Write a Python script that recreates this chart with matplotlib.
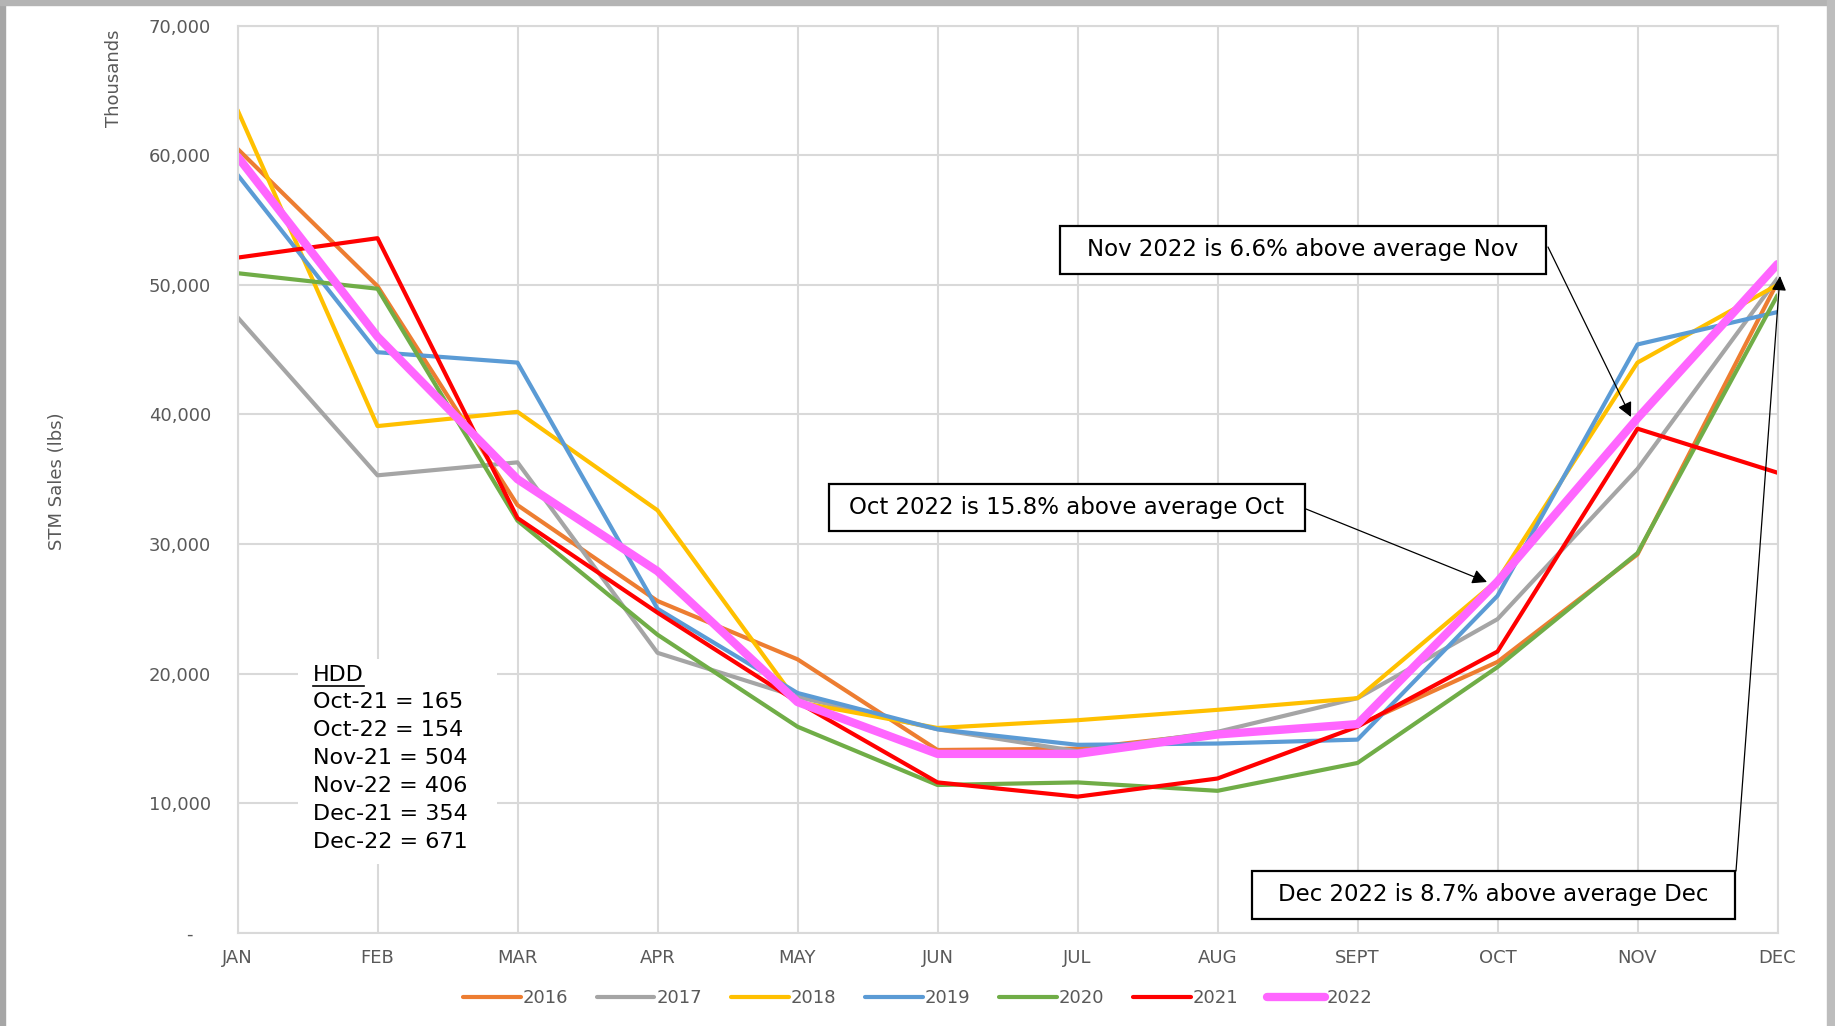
import matplotlib
matplotlib.use('Agg')
import matplotlib.pyplot as plt
from matplotlib.patches import Rectangle
from matplotlib.lines import Line2D

# data (thousands of lbs)
months = ['JAN', 'FEB', 'MAR', 'APR', 'MAY', 'JUN', 'JUL', 'AUG', 'SEPT', 'OCT', 'NOV', 'DEC']
years = ['2016', '2017', '2018', '2019', '2020', '2021', '2022']
sales_2016 = [60500, 49900, 33000, 25600, 21100, 14100, 14200, 15400, 16000, 20900, 29200, 50200]
sales_2017 = [47500, 35300, 36300, 21600, 18200, 15700, 14000, 15500, 18100, 24200, 35800, 50500]
sales_2018 = [63500, 39100, 40200, 32600, 17800, 15800, 16400, 17200, 18100, 27200, 44000, 50000]
sales_2019 = [58500, 44800, 44000, 25000, 18500, 15700, 14500, 14600, 14900, 26000, 45400, 47900]
sales_2020 = [50900, 49700, 31800, 23000, 15900, 11400, 11600, 10950, 13100, 20500, 29300, 49200]
sales_2021 = [52100, 53600, 32000, 24700, 17800, 11600, 10500, 11900, 15900, 21700, 38900, 35500]
sales_2022 = [59900, 46000, 35000, 27900, 17800, 13800, 13800, 15300, 16100, 27100, 39700, 51600]
colors = ['#ED7D31', '#A5A5A5', '#FFC000', '#5B9BD5', '#70AD47', '#FF0000', '#FF66FF']

hdd_lines = ['Oct-21 = 165', 'Oct-22 = 154', 'Nov-21 = 504', 'Nov-22 = 406', 'Dec-21 = 354', 'Dec-22 = 671']
notes = ['Nov 2022 is 6.6% above average Nov',
         'Oct 2022 is 15.8% above average Oct',
         'Dec 2022 is 8.7% above average Dec']

W, H = 1835, 1026
fig = plt.figure(figsize=(W / 100, H / 100), dpi=100)
ax = fig.add_axes([237.5 / W, 1 - 932.7 / H, 1540 / W, 907 / H])

all_sales = [sales_2016, sales_2017, sales_2018, sales_2019, sales_2020, sales_2021, sales_2022]
x = range(len(months))
for yr, vals, c in zip(years, all_sales, colors):
    lw = 6.0 if yr == '2022' else 3.0
    ax.plot(x, vals, color=c, lw=lw, label=yr, solid_joinstyle='round', solid_capstyle='round')

ax.set_xlim(0, 11)
ax.set_ylim(0, 70000)
ax.set_xticks(list(x))
ax.set_xticklabels(months)
yt = list(range(0, 70001, 10000))
ax.set_yticks(yt)
ax.set_yticklabels(['-   '] + ['{:,}'.format(v) for v in yt[1:]])
ax.tick_params(length=0, labelsize=13, labelcolor='#595959')
ax.tick_params(axis='y', pad=19)
ax.tick_params(axis='x', pad=12)
ax.grid(True, color='#D9D9D9', lw=1.5)
ax.set_axisbelow(True)
for s in ax.spines.values():
    s.set_color('#D9D9D9')
    s.set_linewidth(1.5)

fig.text(114 / W, 1 - 78 / H, 'Thousands', rotation=90, ha='center', va='center',
         fontsize=13, color='#595959')
fig.text(57 / W, 1 - 481 / H, 'STM Sales (lbs)', rotation=90, ha='center', va='center',
         fontsize=13, color='#595959')

# pixel -> axes fraction helpers
def fx(px):
    return (px - 237.5) / 1540

def fy(py):
    return (932.7 - py) / 907

# HDD text block on white background
ax.add_patch(Rectangle((fx(298), fy(864)), fx(497) - fx(298), fy(659) - fy(864),
                       transform=ax.transAxes, facecolor='white', edgecolor='none', zorder=5))
hdd = ax.text(fx(313), fy(675), 'HDD', transform=ax.transAxes, ha='left', va='center',
              fontsize=16, color='black', zorder=6)
for i, line in enumerate(hdd_lines):
    ax.text(fx(313), fy(702.2 + i * 27.9), line, transform=ax.transAxes, ha='left', va='center',
            fontsize=16, color='black', zorder=6)

# note boxes (pixel extents of boxes from the reference)
boxes = [(1059.6, 226, 1545.8, 274), (829, 484, 1304.6, 531), (1251.7, 870.6, 1734.7, 919)]
for (x0, y0, x1, y1), txt in zip(boxes, notes):
    ax.add_patch(Rectangle((fx(x0), fy(y1)), fx(x1) - fx(x0), fy(y0) - fy(y1),
                           transform=ax.transAxes, facecolor='white', edgecolor='black',
                           lw=1.6, zorder=7))
    ax.text(fx((x0 + x1) / 2), fy((y0 + y1) / 2), txt, transform=ax.transAxes,
            ha='center', va='center', fontsize=16.5, color='black', zorder=8)

# arrows: start on box edge, tip on the 2022 line
arrows = [((1548, 247), (1631, 417)), ((1306, 509), (1487, 582)), ((1736, 871), (1780, 276))]
for (sx, sy), (ex, ey) in arrows:
    ax.annotate('', xy=(fx(ex), fy(ey)), xycoords='axes fraction',
                xytext=(fx(sx), fy(sy)), textcoords='axes fraction',
                arrowprops=dict(arrowstyle='-|>', color='black', lw=0.9, mutation_scale=22,
                                shrinkA=0, shrinkB=0), zorder=9, annotation_clip=False)

fig.legend(loc='center', bbox_to_anchor=(0.5, 28 / H), ncol=7, frameon=False,
           fontsize=13, labelcolor='#595959', handlelength=3.2, handletextpad=0.1,
           columnspacing=1.6)

# underline for HDD
fig.canvas.draw()
bb = hdd.get_window_extent()
fig.add_artist(Line2D([bb.x0 / W, bb.x1 / W], [(bb.y0 - 1) / H, (bb.y0 - 1) / H],
                      transform=fig.transFigure, color='black', lw=1.2, zorder=10))

# screenshot frame
fig.add_artist(Rectangle((0, 0), 5 / W, 1, transform=fig.transFigure, color='#A6A6A6'))
fig.add_artist(Rectangle((0, 1 - 5 / H), 1, 5 / H, transform=fig.transFigure, color='#B4B4B4'))
fig.add_artist(Rectangle((1 - 8 / W, 0), 8 / W, 1, transform=fig.transFigure, color='#BDBDBD'))

fig.savefig('out.png', dpi=100)
